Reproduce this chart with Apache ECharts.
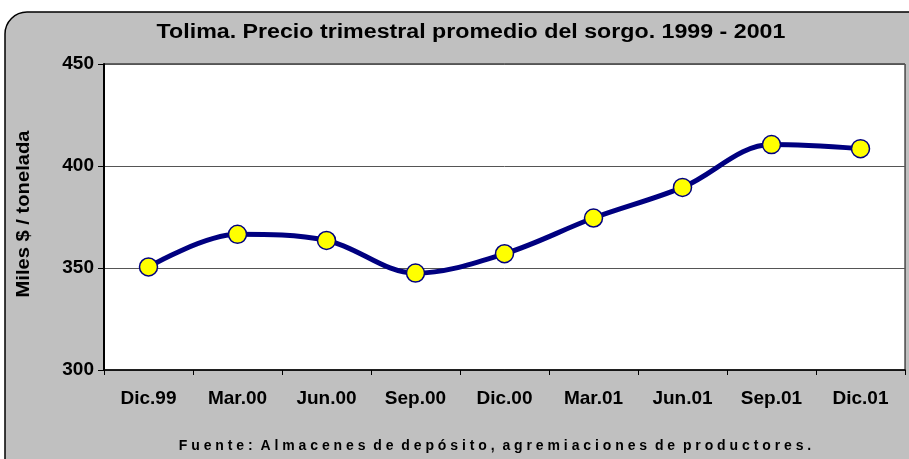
<!DOCTYPE html>
<html>
<head>
<meta charset="utf-8">
<script src="https://cdn.jsdelivr.net/npm/echarts@6/dist/echarts.min.js"></script>
<style>
  html, body { margin: 0; padding: 0; background: #fff; }
  #chart { width: 909px; height: 459px; }
</style>
</head>
<body>
<div id="chart"></div>
<script>
// datos del grafico
var categorias = ['Dic.99', 'Mar.00', 'Jun.00', 'Sep.00', 'Dic.00', 'Mar.01', 'Jun.01', 'Sep.01', 'Dic.01'];
var precios = [350.5, 366.5, 363.5, 347.5, 357, 374.5, 389.5, 410.5, 408.5];
var ejeY = { min: 300, max: 450, interval: 50 };

var fuente = '"Liberation Sans", Arial, sans-serif';
var myChart = echarts.init(document.getElementById('chart'), null, { renderer: 'canvas' });
myChart.setOption({
    backgroundColor: '#fff',
    animation: false,
    graphic: [
        {
            type: 'rect', z: -10,
            shape: { x: 5, y: 12, width: 930, height: 480, r: 22 },
            style: { fill: '#c0c0c0', stroke: '#000', lineWidth: 1.5 }
        },
        {
            type: 'text', z: 10,
            x: 471, y: 32, scaleX: 1.16,
            style: {
                text: 'Tolima. Precio trimestral promedio del sorgo. 1999 - 2001',
                font: 'bold 20px ' + fuente, fill: '#000',
                align: 'center', verticalAlign: 'middle'
            }
        },
        {
            type: 'text', z: 10,
            x: 24, y: 214, rotation: Math.PI / 2, scaleX: 1.12,
            style: {
                text: 'Miles $ / tonelada',
                font: 'bold 18px ' + fuente, fill: '#000',
                align: 'center', verticalAlign: 'middle'
            }
        },
        {
            type: 'text', z: 10,
            x: 495, y: 446,
            style: {
                text: 'F u e n t e :  A l m a c e n e s  d e  d e p ó s i t o ,  a g r e m i a c i o n e s  d e  p r o d u c t o r e s .',
                font: 'bold 14px ' + fuente, fill: '#000',
                align: 'center', verticalAlign: 'middle'
            }
        }
    ],
    grid: {
        left: 104, right: 4, top: 64, bottom: 89,
        show: true, backgroundColor: '#fff', borderColor: '#000', borderWidth: 1
    },
    xAxis: {
        type: 'category',
        data: categorias,
        boundaryGap: true,
        axisLine: { lineStyle: { color: '#000', width: 1.5 } },
        axisTick: { show: true, alignWithLabel: false, length: 5, lineStyle: { color: '#000' } },
        axisLabel: { color: '#000', fontFamily: fuente, fontWeight: 'bold', fontSize: 19, margin: 19, interval: 0 }
    },
    yAxis: {
        type: 'value',
        min: ejeY.min, max: ejeY.max, interval: ejeY.interval,
        axisLine: { show: true, lineStyle: { color: '#000', width: 2 } },
        axisTick: { show: true, length: 6, lineStyle: { color: '#000' } },
        axisLabel: { color: '#000', fontFamily: fuente, fontWeight: 'bold', fontSize: 19, margin: 10 },
        splitLine: { show: true, lineStyle: { color: '#555', width: 1 } }
    },
    series: [{
        type: 'line',
        data: precios,
        smooth: 0.35,
        symbol: 'circle',
        symbolSize: 18,
        lineStyle: { color: '#000080', width: 5 },
        itemStyle: { color: '#ffff00', borderColor: '#000080', borderWidth: 1.5 }
    }]
});
</script>
</body>
</html>
